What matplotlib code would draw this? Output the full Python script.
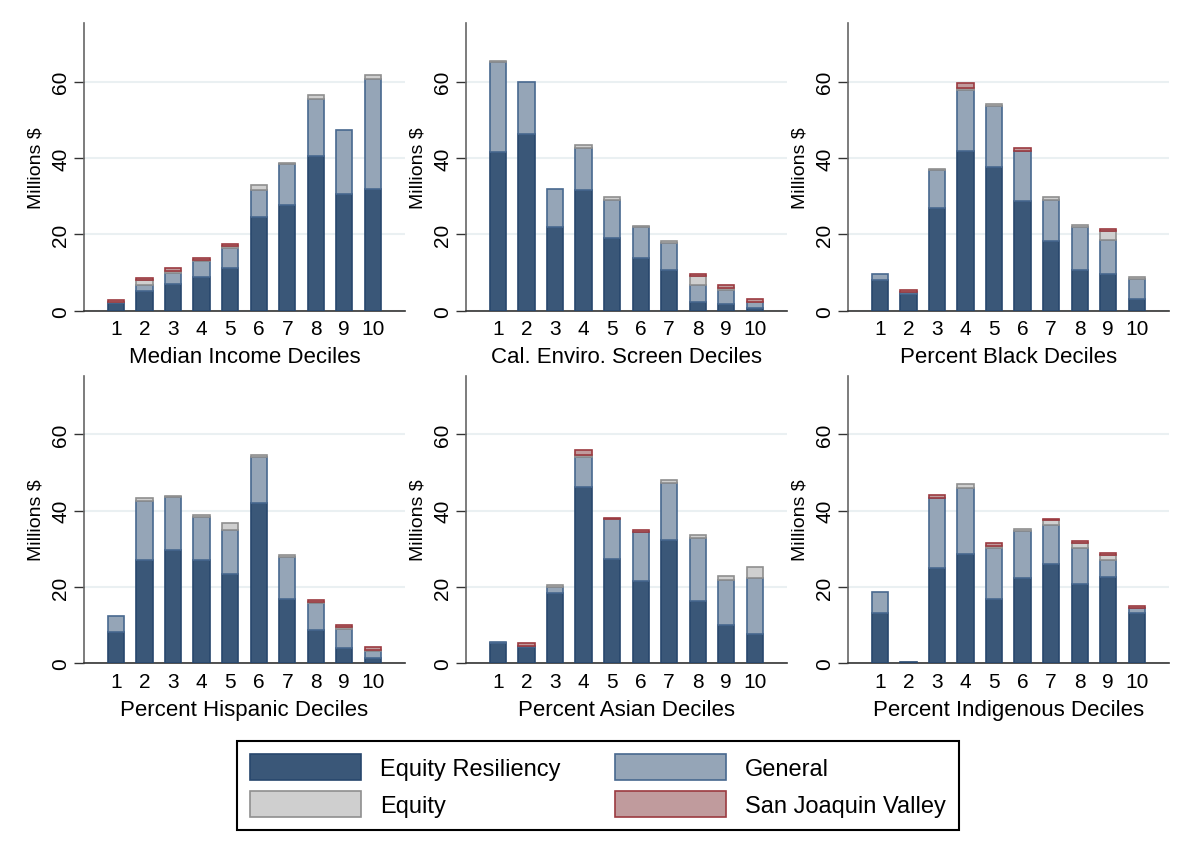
#!/usr/bin/env python3
"""
Stacked funding bars (millions $) by neighbourhood decile, six panels.
"""

import numpy as np
import matplotlib.pyplot as plt
from matplotlib.patches import Patch

plt.rcParams['font.family'] = ['Liberation Sans', 'DejaVu Sans']

deciles = np.arange(1, 11)
tick_labels = [str(d) for d in deciles]

panel_titles = [
    'Median Income Deciles',
    'Cal. Enviro. Screen Deciles',
    'Percent Black Deciles',
    'Percent Hispanic Deciles',
    'Percent Asian Deciles',
    'Percent Indigenous Deciles',
]

# --- Segment values per panel (millions $), deciles 1..10
equity_resiliency = [
    [2.0, 5.2, 7.1, 8.7, 11.3, 24.6, 27.8, 40.6, 30.6, 32.0],
    [41.6, 46.3, 22.0, 31.7, 19.1, 13.7, 10.7, 2.2, 1.7, 0.8],
    [8.1, 4.5, 27.0, 41.9, 37.7, 28.8, 18.2, 10.6, 9.7, 3.1],
    [8.3, 27.2, 29.8, 27.0, 23.5, 42.0, 16.8, 8.8, 3.9, 1.3],
    [5.2, 4.4, 18.3, 46.3, 27.4, 21.6, 32.2, 16.2, 10.0, 7.8],
    [13.3, 0.3, 24.9, 28.7, 16.8, 22.4, 25.9, 20.9, 22.7, 13.3],
]
general = [
    [0.3, 1.6, 2.9, 4.3, 5.1, 7.1, 10.6, 14.9, 16.8, 28.6],
    [23.6, 13.5, 9.8, 10.9, 9.9, 8.2, 7.1, 4.6, 3.7, 1.4],
    [1.6, 0.4, 9.8, 15.9, 16.0, 13.1, 10.8, 11.2, 8.7, 5.2],
    [4.1, 15.4, 13.7, 11.3, 11.3, 12.0, 11.0, 6.9, 5.2, 1.9],
    [0.5, 0.2, 1.8, 7.8, 10.3, 12.9, 15.0, 16.7, 11.8, 14.6],
    [5.4, 0.0, 18.5, 17.3, 13.5, 12.3, 10.4, 9.2, 4.4, 1.3],
]
equity = [
    [0.1, 1.3, 0.4, 0.3, 0.5, 1.2, 0.3, 0.9, 0.0, 1.1],
    [0.3, 0.0, 0.0, 0.8, 0.9, 0.4, 0.5, 2.3, 0.5, 0.2],
    [0.0, 0.0, 0.3, 0.6, 0.5, 0.0, 0.8, 0.7, 2.6, 0.5],
    [0.0, 0.7, 0.3, 0.6, 2.0, 0.6, 0.6, 0.3, 0.4, 0.2],
    [0.0, 0.0, 0.4, 0.6, 0.1, 0.0, 0.8, 0.8, 1.2, 2.8],
    [0.0, 0.0, 0.0, 1.0, 0.4, 0.5, 1.2, 1.5, 1.3, 0.0],
]
san_joaquin = [
    [0.5, 0.4, 0.7, 0.4, 0.5, 0.0, 0.0, 0.0, 0.0, 0.0],
    [0.0, 0.0, 0.0, 0.0, 0.0, 0.0, 0.0, 0.5, 0.8, 0.6],
    [0.0, 0.4, 0.0, 1.3, 0.0, 0.6, 0.0, 0.0, 0.5, 0.0],
    [0.0, 0.0, 0.0, 0.0, 0.0, 0.0, 0.0, 0.6, 0.6, 1.0],
    [0.0, 0.6, 0.0, 1.1, 0.3, 0.5, 0.0, 0.0, 0.0, 0.0],
    [0.0, 0.0, 0.6, 0.0, 0.7, 0.0, 0.3, 0.5, 0.6, 0.4],
]

series = [
    ('Equity Resiliency', equity_resiliency, '#3a5778', '#27476d'),
    ('General', general, '#95a5b7', '#48688f'),
    ('Equity', equity, '#cfcfcf', '#8f8f8f'),
    ('San Joaquin Valley', san_joaquin, '#c09b9d', '#9b3a40'),
]

fig = plt.figure(figsize=(11.84, 8.62), dpi=100)

lefts = [0.071, 0.3936, 0.7162]
bottoms = [0.6384, 0.2293]
width, height = 0.2711, 0.3335

for k, title in enumerate(panel_titles):
    ax = fig.add_axes([lefts[k % 3], bottoms[k // 3], width, height])
    base = np.zeros(len(deciles))
    for name, data, face, edge in series:
        vals = np.array(data[k])
        nz = vals > 0  # skip empty segments so no stray outlines appear
        ax.bar(deciles[nz], vals[nz], width=0.57, bottom=base[nz], color=face,
               edgecolor=edge, linewidth=1.2, zorder=3)
        base += vals

    ax.set_xlim(-0.12, 11.13)
    ax.set_ylim(0, 75.3)
    ax.set_yticks([0, 20, 40, 60])
    ax.set_xticks(deciles)
    ax.set_xticklabels(tick_labels)
    ax.grid(axis='y', color='#eaf0f2', linewidth=1.5, zorder=0)
    ax.set_axisbelow(True)

    ax.tick_params(axis='x', length=0, labelsize=15, pad=6)
    ax.tick_params(axis='y', length=7, width=1, color='#333333',
                   labelsize=15, labelrotation=90, pad=3)
    for lab in ax.get_yticklabels():
        lab.set_va('center')

    for side in ('top', 'right'):
        ax.spines[side].set_visible(False)
    ax.spines['left'].set_color('#666666')
    ax.spines['left'].set_linewidth(1.2)
    ax.spines['bottom'].set_color('#333333')
    ax.spines['bottom'].set_linewidth(1.2)

    ax.set_ylabel('Millions $', fontsize=14, labelpad=5)
    ax.set_xlabel(title, fontsize=16, labelpad=6)

handles = [Patch(facecolor=face, edgecolor=edge, linewidth=1.2, label=name)
           for name, _, face, edge in series]
# column-wise fill: ER / Equity in the first column, General / SJV in the second
order = [0, 2, 1, 3]
leg = fig.legend([handles[i] for i in order], [series[i][0] for i in order],
                 loc='center', bbox_to_anchor=(0.505, 0.0876), ncol=2,
                 fontsize=17, handlelength=4.7, handleheight=1.3,
                 handletextpad=0.8, columnspacing=2.3, labelspacing=0.5,
                 borderpad=0.55, fancybox=False, framealpha=1)
leg.get_frame().set_edgecolor('black')
leg.get_frame().set_linewidth(1.5)

plt.savefig('out.png', dpi=100)
